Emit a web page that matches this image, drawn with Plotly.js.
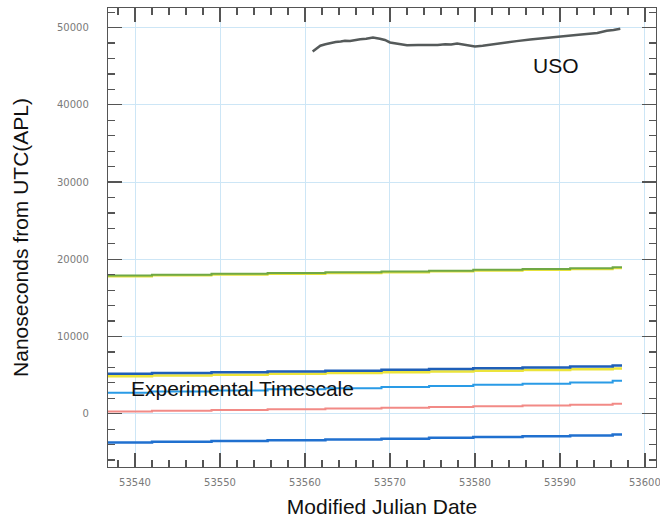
<!DOCTYPE html>
<html>
<head>
<meta charset="utf-8">
<script src="https://cdn.plot.ly/plotly-3.0.1.min.js"></script>
<style>html,body{margin:0;padding:0;background:#fff;}#chart{width:660px;height:522px;}</style>
</head>
<body>
<div id="chart"></div>
<script>
// Step dates shared by the timescale traces (MJD)
const stepMjd = [53536.8, 53542.0, 53549.0, 53555.6, 53562.4, 53569.0, 53574.6, 53579.8, 53585.6, 53591.2, 53596.2, 53597.3];
const greenVals      = [17900, 18010, 18110, 18210, 18320, 18420, 18530, 18630, 18740, 18840, 18960, 18960];
const greenUnderVals = [17780, 17890, 17990, 18090, 18200, 18300, 18410, 18510, 18620, 18720, 18840, 18840];
const darkBlueVals   = [5160, 5270, 5370, 5470, 5580, 5680, 5790, 5890, 6000, 6100, 6230, 6230];
const yellowVals     = [4850, 4960, 5060, 5160, 5260, 5360, 5460, 5560, 5660, 5760, 5870, 5870];
const expVals        = [2700, 2880, 3020, 3160, 3300, 3450, 3600, 3740, 3890, 4040, 4260, 4260];
const pinkVals       = [280, 380, 470, 570, 670, 770, 870, 960, 1060, 1160, 1290, 1290];
const lowBlueVals    = [-3720, -3620, -3520, -3420, -3330, -3230, -3120, -3020, -2920, -2820, -2690, -2690];

const usoMjd = [53560.9, 53561.4, 53561.8, 53562.4, 53562.9, 53563.6, 53564.2, 53564.7, 53565.3, 53565.9, 53566.5, 53567.2, 53568.0, 53568.8, 53569.4, 53570.0, 53571.0, 53572.0, 53573.3, 53574.7, 53575.6, 53576.5, 53577.2, 53577.9, 53578.7, 53579.4, 53580.0, 53580.9, 53581.8, 53582.6, 53583.3, 53584.9, 53586.5, 53588.2, 53590.0, 53592.2, 53594.4, 53595.5, 53596.3, 53597.1];
const usoVals = [46920, 47320, 47660, 47850, 48000, 48130, 48210, 48300, 48280, 48420, 48500, 48560, 48730, 48560, 48400, 48080, 47900, 47720, 47750, 47700, 47760, 47850, 47800, 47950, 47820, 47720, 47570, 47640, 47790, 47900, 48080, 48250, 48470, 48620, 48860, 49070, 49300, 49600, 49700, 49860];

const xTickVals = [53540, 53550, 53560, 53570, 53580, 53590, 53600];
const xTickText = ['53540', '53550', '53560', '53570', '53580', '53590', '53600'];
const yTickVals = [0, 10000, 20000, 30000, 40000, 50000];
const yTickText = ['0', '10000', '20000', '30000', '40000', '50000'];

function stepTrace(y, color, width) {
  return {x: stepMjd, y: y, type: 'scatter', mode: 'lines',
          line: {color: color, width: width, shape: 'hv'}, hoverinfo: 'skip'};
}

const traces = [
  stepTrace(greenUnderVals, '#e6e23a', 2),
  stepTrace(greenVals, '#6fa845', 2),
  stepTrace(yellowVals, '#ece43a', 2.5),
  stepTrace(darkBlueVals, '#1f5fb8', 2.5),
  stepTrace(expVals, '#2a9be6', 2),
  stepTrace(pinkVals, '#f28a86', 2),
  stepTrace(lowBlueVals, '#2070cf', 2.5),
  {x: usoMjd, y: usoVals, type: 'scatter', mode: 'lines',
   line: {color: '#555a5a', width: 2.5}, hoverinfo: 'skip'}
];

const tickFont = {family: 'DejaVu Sans, sans-serif', size: 10, color: '#7a7a7a'};
const titleFont = {family: 'Liberation Sans, Arial, sans-serif', size: 21, color: '#111'};

const layout = {
  width: 660, height: 522,
  margin: {l: 108, r: 4, t: 8, b: 55},
  paper_bgcolor: '#fff', plot_bgcolor: '#fff',
  showlegend: false,
  xaxis: {
    range: [53536.82, 53601.3],
    tickmode: 'array', tickvals: xTickVals, ticktext: xTickText,
    ticks: 'inside', ticklen: 14, tickcolor: '#555', tickwidth: 1.2,
    minor: {dtick: 2, tick0: 53540, ticks: 'inside', ticklen: 7, tickcolor: '#555', showgrid: false},
    showline: true, linecolor: '#555', linewidth: 1.2, mirror: 'allticks',
    showgrid: true, gridcolor: '#cde6f6', gridwidth: 1,
    zeroline: false, tickfont: tickFont, ticklabelstandoff: 6,
    title: {text: 'Modified Julian Date', font: titleFont, standoff: 12},
    automargin: false
  },
  yaxis: {
    range: [-6900, 52540],
    tickmode: 'array', tickvals: yTickVals, ticktext: yTickText,
    ticks: 'inside', ticklen: 14, tickcolor: '#555', tickwidth: 1.2,
    minor: {dtick: 2000, tick0: 0, ticks: 'inside', ticklen: 7, tickcolor: '#555', showgrid: false},
    showline: true, linecolor: '#555', linewidth: 1.2, mirror: 'allticks',
    showgrid: true, gridcolor: '#cde6f6', gridwidth: 1,
    zeroline: false, tickfont: tickFont, ticklabelstandoff: 16,
    title: {text: 'Nanoseconds from UTC(APL)', font: titleFont, standoff: 22},
    automargin: false
  },
  annotations: [
    {x: 53589.5, y: 45070, xref: 'x', yref: 'y', text: 'USO', showarrow: false,
     font: titleFont, xanchor: 'center', yanchor: 'middle'},
    {x: 53539.3, y: 3300, xref: 'x', yref: 'y', text: 'Experimental Timescale', showarrow: false,
     font: titleFont, xanchor: 'left', yanchor: 'middle'},
    {x: xTickVals[6], y: 0, xref: 'x', yref: 'paper', yshift: -15, text: xTickText[6], showarrow: false,
     font: tickFont, xanchor: 'center', yanchor: 'middle'}
  ]
};

Plotly.newPlot('chart', traces, layout, {displayModeBar: false, staticPlot: true});
</script>
</body>
</html>
